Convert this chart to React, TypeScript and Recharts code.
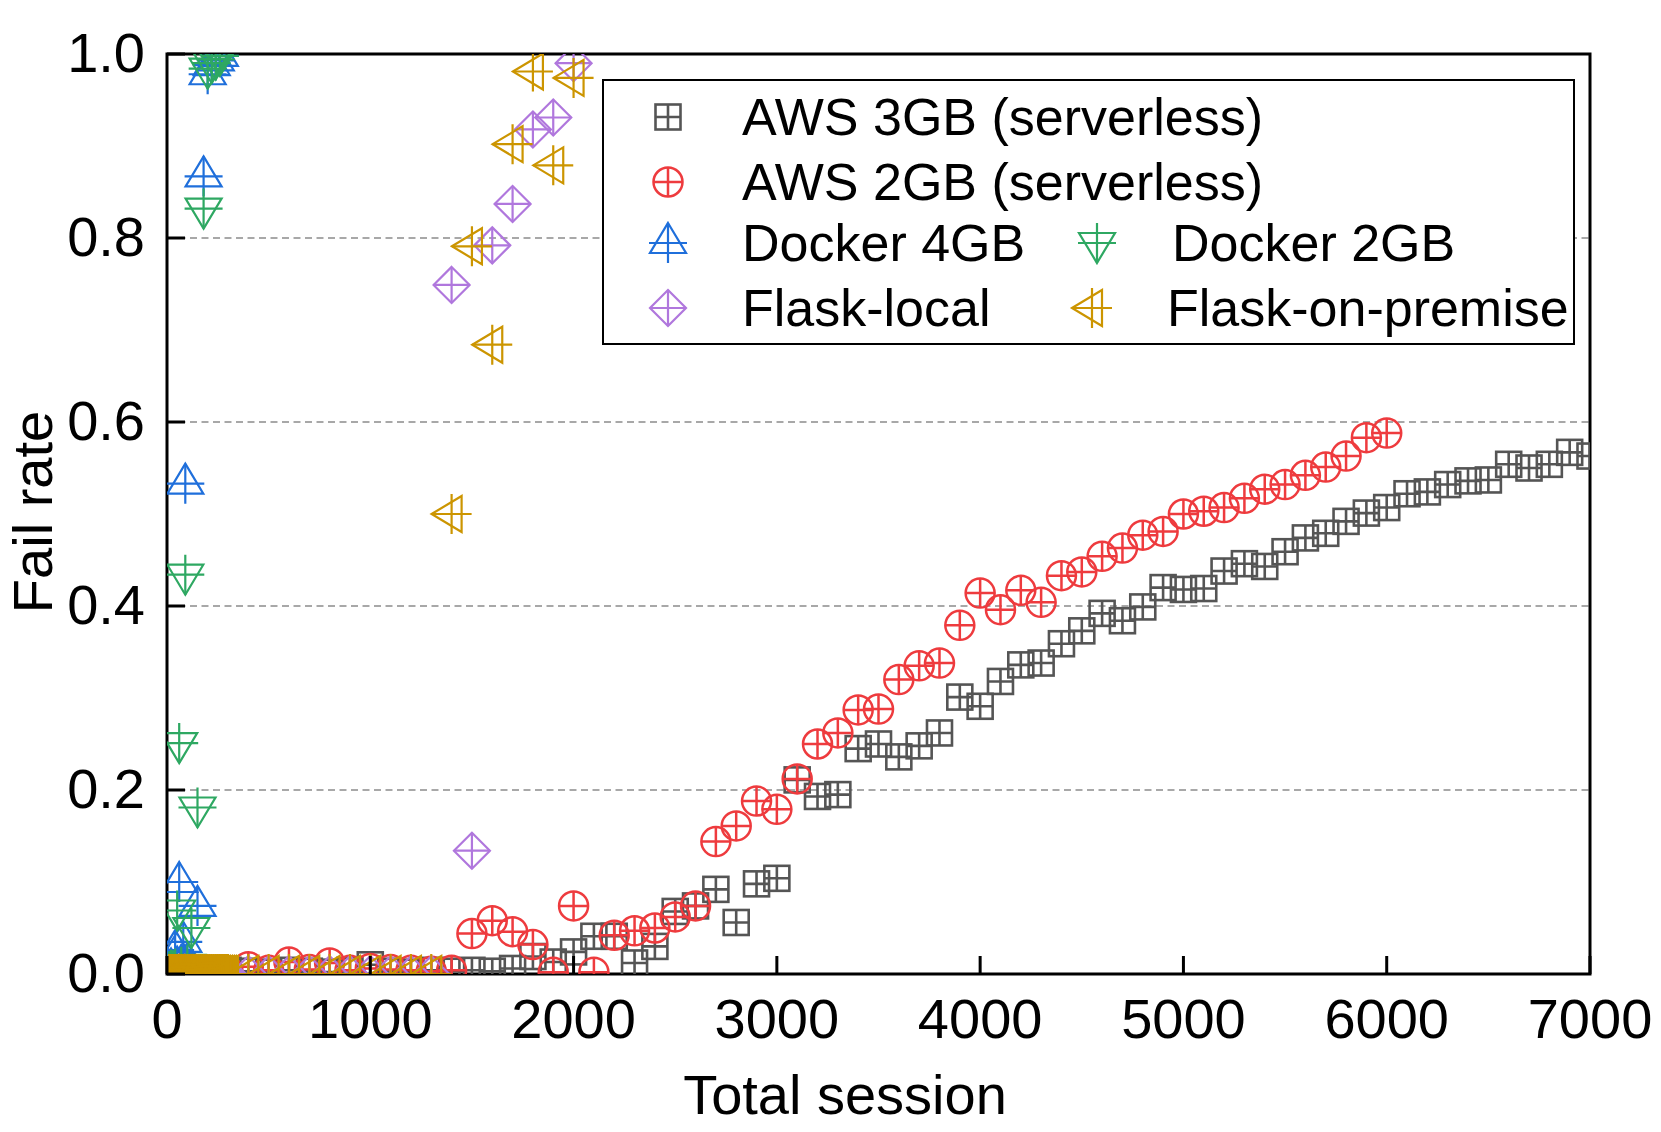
import { ScatterChart, Scatter, XAxis, YAxis, CartesianGrid, ReferenceArea } from 'recharts'

const FONT = '"Liberation Sans", Arial, Helvetica, sans-serif'

// total sessions for the two AWS runs
const awsSessions = [
  100, 200, 300, 400, 500, 600, 700, 800, 900, 1000,
  1100, 1200, 1300, 1400, 1500, 1600, 1700, 1800, 1900, 2000,
  2100, 2200, 2300, 2400, 2500, 2600, 2700, 2800, 2900, 3000,
  3100, 3200, 3300, 3400, 3500, 3600, 3700, 3800, 3900, 4000,
  4100, 4200, 4300, 4400, 4500, 4600, 4700, 4800, 4900, 5000,
  5100, 5200, 5300, 5400, 5500, 5600, 5700, 5800, 5900, 6000,
  6100, 6200, 6300, 6400, 6500, 6600, 6700, 6800, 6900, 7000
]

const aws3gbFail = [
  0.003, 0.002, 0.004, 0.003, 0.002, 0.004, 0.003, 0.002, 0.004, 0.010,
  0.003, 0.002, 0.004, 0.003, 0.004, 0.003, 0.006, 0.019, 0.013, 0.024,
  0.041, 0.041, 0.012, 0.030, 0.068, 0.074, 0.092, 0.056, 0.098, 0.104,
  0.211, 0.193, 0.195, 0.245, 0.250, 0.236, 0.248, 0.262, 0.301, 0.291,
  0.318, 0.336, 0.338, 0.359, 0.373, 0.392, 0.384, 0.399, 0.420, 0.418,
  0.419, 0.438, 0.446, 0.443, 0.459, 0.474, 0.479, 0.492, 0.501, 0.507,
  0.522, 0.524, 0.532, 0.536, 0.537, 0.554, 0.550, 0.554, 0.567, 0.563
]

const aws2gbFail = [
  0.008, 0.004, 0.003, 0.008, 0.004, 0.013, 0.005, 0.012, 0.004, 0.006,
  0.005, 0.004, 0.003, 0.004, 0.044, 0.058, 0.046, 0.032, 0.002, 0.074,
  0.002, 0.042, 0.047, 0.050, 0.062, 0.074, 0.144, 0.161, 0.188, 0.179,
  0.212, 0.250, 0.262, 0.287, 0.288, 0.320, 0.335, 0.338, 0.379, 0.414,
  0.396, 0.417, 0.404, 0.433, 0.437, 0.454, 0.463, 0.477, 0.481, 0.500,
  0.503, 0.507, 0.517, 0.527, 0.532, 0.542, 0.551, 0.563, 0.583, 0.588
]

const docker4gbSessions = [10, 20, 30, 40, 50, 60, 70, 80, 90, 100, 120, 150, 180, 200, 220, 240, 260]
const docker4gbFail = [0.004, 0.006, 0.003, 0.026, 0.008, 0.100, 0.010, 0.035, 0.533, 0.012, 0.006, 0.074, 0.867, 0.978, 0.988, 0.993, 0.998]

const docker2gbSessions = [10, 20, 30, 40, 50, 60, 70, 90, 100, 120, 150, 180, 200, 220, 240, 260]
const docker2gbFail = [0.003, 0.005, 0.004, 0.006, 0.069, 0.251, 0.008, 0.434, 0.010, 0.050, 0.181, 0.832, 0.984, 0.990, 0.994, 0.998]

const flaskSessions = [
  10, 20, 30, 40, 50, 60, 70, 80, 90, 100,
  110, 120, 130, 140, 150, 160, 170, 180, 190, 200,
  210, 220, 230, 240, 250, 260, 270, 280, 290, 300,
  400, 500, 600, 700, 800, 900, 1000, 1100, 1200, 1300,
  1400, 1500, 1600, 1700, 1800, 1900, 2000
]

const flaskLocalFail = [
  0, 0, 0, 0, 0, 0, 0, 0, 0, 0,
  0, 0, 0, 0, 0, 0, 0, 0, 0, 0,
  0, 0, 0, 0, 0, 0, 0, 0, 0, 0,
  0, 0, 0, 0, 0, 0, 0, 0, 0, 0,
  0.749, 0.134, 0.792, 0.837, 0.918, 0.931, 0.990
]

const flaskPremiseFail = [
  0, 0, 0, 0, 0, 0, 0, 0, 0, 0,
  0, 0, 0, 0, 0, 0, 0, 0, 0, 0,
  0, 0, 0, 0, 0, 0, 0, 0, 0, 0,
  0, 0, 0, 0, 0, 0, 0, 0, 0, 0,
  0.500, 0.791, 0.684, 0.902, 0.981, 0.879, 0.974
]

const xTicks = [0, 1000, 2000, 3000, 4000, 5000, 6000, 7000]
const yTicks = [0, 0.2, 0.4, 0.6, 0.8, 1.0]

const toPoints = (xs: number[], ys: number[]) => ys.map((y, i) => ({ x: xs[i], y }))

interface MarkProps {
  cx: number
  cy: number
  color: string
}

function SquarePlus({ cx, cy, color }: MarkProps) {
  const h = 12.5
  return (
    <g fill="none" stroke={color} strokeWidth={2.6}>
      <rect x={cx - h} y={cy - h} width={2 * h} height={2 * h} />
      <path d={`M${cx - h},${cy}H${cx + h}M${cx},${cy - h}V${cy + h}`} />
    </g>
  )
}

function CirclePlus({ cx, cy, color }: MarkProps) {
  const r = 14.5
  return (
    <g fill="none" stroke={color} strokeWidth={2.5}>
      <circle cx={cx} cy={cy} r={r} />
      <path d={`M${cx - r},${cy}H${cx + r}M${cx},${cy - r}V${cy + r}`} />
    </g>
  )
}

function TriUpPlus({ cx, cy, color }: MarkProps) {
  return (
    <g fill="none" stroke={color} strokeWidth={2.2}>
      <path d={`M${cx},${cy - 20}L${cx + 18},${cy + 10}L${cx - 18},${cy + 10}Z`} />
      <path d={`M${cx - 19},${cy}H${cx + 19}M${cx},${cy - 20}V${cy + 20}`} />
    </g>
  )
}

function TriDownPlus({ cx, cy, color }: MarkProps) {
  return (
    <g fill="none" stroke={color} strokeWidth={2.2}>
      <path d={`M${cx},${cy + 20}L${cx + 18},${cy - 10}L${cx - 18},${cy - 10}Z`} />
      <path d={`M${cx - 19},${cy}H${cx + 19}M${cx},${cy - 20}V${cy + 20}`} />
    </g>
  )
}

function DiamondPlus({ cx, cy, color }: MarkProps) {
  const r = 18
  return (
    <g fill="none" stroke={color} strokeWidth={2.2}>
      <path d={`M${cx},${cy - r}L${cx + r},${cy}L${cx},${cy + r}L${cx - r},${cy}Z`} />
      <path d={`M${cx - r},${cy}H${cx + r}M${cx},${cy - r}V${cy + r}`} />
    </g>
  )
}

function TriLeftPlus({ cx, cy, color }: MarkProps) {
  return (
    <g fill="none" stroke={color} strokeWidth={2.2}>
      <path d={`M${cx - 20},${cy}L${cx + 10},${cy - 18}L${cx + 10},${cy + 18}Z`} />
      <path d={`M${cx - 20},${cy}H${cx + 20}M${cx},${cy - 20}V${cy + 20}`} />
    </g>
  )
}

const series = [
  { name: 'AWS 3GB (serverless)', data: toPoints(awsSessions, aws3gbFail), color: '#555555', Mark: SquarePlus },
  { name: 'AWS 2GB (serverless)', data: toPoints(awsSessions, aws2gbFail), color: '#EE3B3E', Mark: CirclePlus },
  { name: 'Docker 4GB', data: toPoints(docker4gbSessions, docker4gbFail), color: '#1F6FDB', Mark: TriUpPlus },
  { name: 'Docker 2GB', data: toPoints(docker2gbSessions, docker2gbFail), color: '#2EA862', Mark: TriDownPlus },
  { name: 'Flask-local', data: toPoints(flaskSessions, flaskLocalFail), color: '#B077DD', Mark: DiamondPlus },
  { name: 'Flask-on-premise', data: toPoints(flaskSessions, flaskPremiseFail), color: '#CC9500', Mark: TriLeftPlus }
]

// legend slots: [series index, symbol x, text x, row centre y]
const legendSlots = [
  [0, 668, 742, 117],
  [1, 668, 742, 182],
  [2, 668, 742, 243],
  [3, 1097, 1172, 243],
  [4, 668, 742, 308],
  [5, 1092, 1167, 308]
]

function YTick(props: any) {
  const { x, y, payload } = props
  return (
    <g>
      <line x1={x} x2={x + 18} y1={y} y2={y} stroke="#000" strokeWidth={3} />
      <text x={x - 22} y={y + 18} textAnchor="end" fontSize={56} fontFamily={FONT} fill="#000">
        {Number(payload.value).toFixed(1)}
      </text>
    </g>
  )
}

function XTick(props: any) {
  const { x, y, payload } = props
  return (
    <g>
      <line x1={x} x2={x} y1={y} y2={y - 18} stroke="#000" strokeWidth={3} />
      <text x={x} y={y + 64} textAnchor="middle" fontSize={56} fontFamily={FONT} fill="#000">
        {payload.value}
      </text>
    </g>
  )
}

export default function App() {
  return (
    <div style={{ position: 'absolute', left: 0, top: 0, width: 1661, height: 1132, background: '#fff' }}>

      <ScatterChart width={1661} height={1132} margin={{ top: 54, right: 71, bottom: 0, left: 0 }}>

        <CartesianGrid vertical={false} stroke="#8c8c8c" strokeWidth={1.5} strokeDasharray="7 4.5" />

        <XAxis
          type="number"
          dataKey="x"
          domain={[0, 7000]}
          ticks={xTicks}
          interval={0}
          allowDataOverflow
          height={158}
          tickSize={0}
          tickMargin={0}
          axisLine={false}
          tickLine={false}
          tick={(p: any) => <XTick {...p} />}
        />

        <YAxis
          type="number"
          dataKey="y"
          domain={[0, 1]}
          ticks={yTicks}
          interval={0}
          allowDataOverflow
          width={167}
          tickSize={0}
          tickMargin={0}
          axisLine={false}
          tickLine={false}
          tick={(p: any) => <YTick {...p} />}
        />

        {series.map((s) => (
          <Scatter
            key={s.name}
            name={s.name}
            data={s.data}
            isAnimationActive={false}
            shape={(p: any) => <s.Mark cx={p.cx} cy={p.cy} color={s.color} />}
          />
        ))}

        <ReferenceArea
          x1={0}
          x2={7000}
          y1={0}
          y2={1}
          ifOverflow="visible"
          fill="none"
          stroke="#000"
          strokeWidth={3}
        />

      </ScatterChart>

      {/* axis titles and legend box */}
      <svg
        width={1661}
        height={1132}
        style={{ position: 'absolute', left: 0, top: 0, pointerEvents: 'none' }}
        fontFamily={FONT}
      >
        <text x={845} y={1114} textAnchor="middle" fontSize={56} fill="#000">
          Total session
        </text>
        <text x={52} y={512} textAnchor="middle" fontSize={56} fill="#000" transform="rotate(-90 52 512)">
          Fail rate
        </text>

        <rect x={603} y={80} width={971} height={264} fill="#fff" stroke="#000" strokeWidth={2} />

        {legendSlots.map(([idx, sx, tx, cy]) => {
          const s = series[idx]
          return (
            <g key={s.name}>
              <s.Mark cx={sx} cy={cy} color={s.color} />
              <text x={tx} y={cy + 18} fontSize={52} fill="#000">
                {s.name}
              </text>
            </g>
          )
        })}
      </svg>

    </div>
  )
}
